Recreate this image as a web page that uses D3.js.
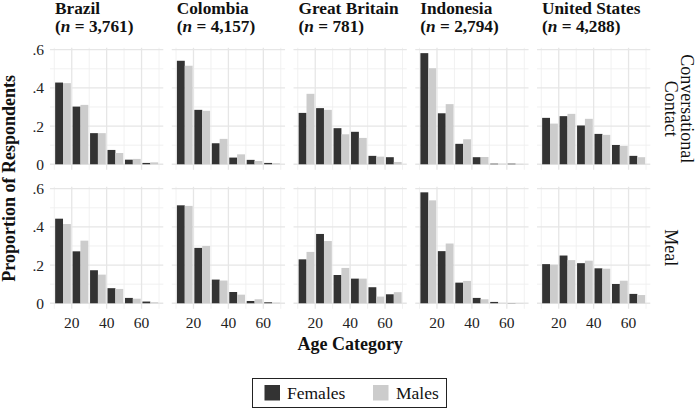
<!DOCTYPE html>
<html><head><meta charset="utf-8">
<script src="https://cdn.jsdelivr.net/npm/d3@7"></script>
<style>body{margin:0;background:#fff}svg{display:block}text{font-family:"Liberation Serif","DejaVu Serif",serif;fill:#111}</style>
</head><body><svg id="c" width="696" height="408"></svg>
<script>
const countries = ["Brazil","Colombia","Great Britain","Indonesia","United States"];
const sampleSizes = ["3,761","4,157","781","2,794","4,288"];
const contactTypes = ["Conversational Contact","Meal"];
const ageCategories = [15,25,35,45,55,65];
const sexes = ["Females","Males"];
const xTicks = [20,40,60];
const yTicks = [0,0.2,0.4,0.6];
const yTickLabels = ["0",".2",".4",".6"];
// Conversational contact
const convFemales = {
  "Brazil":        [0.428,0.302,0.163,0.075,0.024,0.007],
  "Colombia":      [0.542,0.285,0.110,0.035,0.023,0.007],
  "Great Britain": [0.269,0.294,0.189,0.170,0.044,0.037],
  "Indonesia":     [0.582,0.267,0.107,0.037,0.003,0.003],
  "United States": [0.243,0.252,0.203,0.159,0.101,0.044]
};
const convMales = {
  "Brazil":        [0.425,0.311,0.163,0.059,0.028,0.010],
  "Colombia":      [0.516,0.280,0.133,0.052,0.017,0.005],
  "Great Britain": [0.369,0.285,0.157,0.138,0.040,0.012],
  "Indonesia":     [0.503,0.315,0.131,0.038,0.003,0.002],
  "United States": [0.213,0.264,0.238,0.154,0.096,0.037]
};
// Meal
const mealFemales = {
  "Brazil":        [0.443,0.272,0.173,0.079,0.028,0.009],
  "Colombia":      [0.513,0.290,0.124,0.059,0.012,0.005],
  "Great Britain": [0.230,0.363,0.148,0.129,0.084,0.047],
  "Indonesia":     [0.581,0.273,0.108,0.028,0.007,0.001],
  "United States": [0.205,0.250,0.210,0.183,0.101,0.049]
};
const mealMales = {
  "Brazil":        [0.415,0.328,0.150,0.075,0.024,0.005],
  "Colombia":      [0.510,0.300,0.119,0.045,0.021,0.003],
  "Great Britain": [0.269,0.326,0.185,0.129,0.035,0.058],
  "Indonesia":     [0.539,0.313,0.117,0.021,0.002,0.001],
  "United States": [0.202,0.226,0.223,0.181,0.118,0.043]
};
const colors = {"Females":"#333333","Males":"#cccccc"};

const svg = d3.select("#c");
const panelLeft = 50, panelW = 113.3, panelStep = 121.75, panelH = 122;
const rowTops = [47.8, 186.8];
const x = d3.scaleLinear().domain([7.55,72.45]).range([0,panelW]);
const y = d3.scaleLinear().domain([-0.029,0.61]).range([panelH,0]);
const barW = 4.5;
const rowData = [[convFemales,convMales],[mealFemales,mealMales]];

rowData.forEach((pair,ri)=>{
  countries.forEach((ct,ci)=>{
    const g = svg.append("g").attr("transform",`translate(${panelLeft+ci*panelStep},${rowTops[ri]})`);
    // minor grid
    [10,30,50,70].forEach(v=>g.append("line").attr("x1",x(v)).attr("x2",x(v)).attr("y1",0).attr("y2",panelH).attr("stroke","#efefef").attr("stroke-width",0.9));
    [0.1,0.3,0.5].forEach(v=>g.append("line").attr("y1",y(v)).attr("y2",y(v)).attr("x1",0).attr("x2",panelW).attr("stroke","#efefef").attr("stroke-width",0.9));
    xTicks.forEach(v=>g.append("line").attr("x1",x(v)).attr("x2",x(v)).attr("y1",0).attr("y2",panelH).attr("stroke","#e6e6e6").attr("stroke-width",1.3));
    yTicks.forEach(v=>g.append("line").attr("y1",y(v)).attr("y2",y(v)).attr("x1",0).attr("x2",panelW).attr("stroke","#e6e6e6").attr("stroke-width",1.3));
    sexes.forEach((s,si)=>{
      const vals = pair[si][ct];
      g.selectAll(null).data(ageCategories).enter().append("rect")
        .attr("x",(a)=>x(si===0? a-barW : a))
        .attr("width",x(barW)-x(0))
        .attr("y",(a,i)=>y(vals[i]))
        .attr("height",(a,i)=>y(0)-y(vals[i]))
        .attr("fill",colors[s]);
    });
    if(ci===0){
      yTicks.forEach((v,k)=>g.append("text").attr("x",-6).attr("y",y(v)).attr("dy","0.35em").attr("text-anchor","end").attr("font-size",15.5).style("fill","#222").text(yTickLabels[k]));
    }
    if(ri===1){
      xTicks.forEach(v=>g.append("text").attr("x",x(v)).attr("y",panelH+19.5).attr("text-anchor","middle").attr("font-size",15.5).style("fill","#222").text(v));
    }
    if(ri===0){
      const t1 = svg.append("text").attr("x",panelLeft+ci*panelStep+5).attr("y",13.5).attr("font-size",17.3).attr("font-weight","bold").text(ct);
      const t2 = svg.append("text").attr("x",panelLeft+ci*panelStep+5).attr("y",32).attr("font-size",17.3).attr("font-weight","bold");
      t2.append("tspan").text("(");
      t2.append("tspan").attr("font-style","italic").text("n");
      t2.append("tspan").text(" = "+sampleSizes[ci]+")");
    }
  });
});

// Right strip labels
const topMid = rowTops[0]+panelH/2, botMid = rowTops[1]+panelH/2;
const s1 = svg.append("text").attr("transform",`translate(681,${topMid}) rotate(90)`).attr("text-anchor","middle").attr("font-size",18);
s1.append("tspan").attr("x",0).attr("dy",0).text("Conversational");
s1.append("tspan").attr("x",0).attr("dy",16).text("Contact");
svg.append("text").attr("transform",`translate(665,${botMid}) rotate(90)`).attr("text-anchor","middle").attr("font-size",18).text(contactTypes[1]);

// Axis titles
svg.append("text").attr("transform",`translate(15,${(rowTops[0]+rowTops[1]+panelH)/2}) rotate(-90)`).attr("text-anchor","middle").attr("font-size",18).attr("font-weight","bold").text("Proportion of Respondents");
svg.append("text").attr("x",panelLeft+(4*panelStep+panelW)/2).attr("y",350).attr("text-anchor","middle").attr("font-size",18).attr("font-weight","bold").text("Age Category");

// Legend
const lg = svg.append("g");
lg.append("rect").attr("x",252.5).attr("y",378.5).attr("width",194).attr("height",29).attr("fill","#fff").attr("stroke","#222").attr("stroke-width",1);
const legPos = [{kx:264.5,tx:287},{kx:373,tx:396}];
sexes.forEach((s,i)=>{
  lg.append("rect").attr("x",legPos[i].kx).attr("y",385).attr("width",15.5).attr("height",15.5).attr("fill",colors[s]);
  lg.append("text").attr("x",legPos[i].tx).attr("y",399).attr("font-size",17.5).text(s);
});
</script></body></html>
